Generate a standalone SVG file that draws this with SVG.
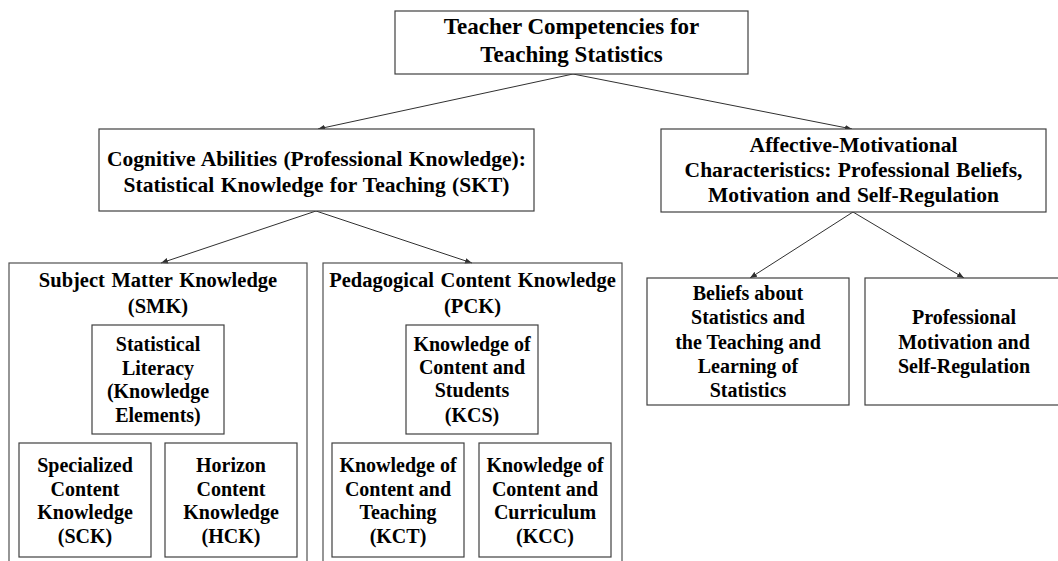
<svg xmlns="http://www.w3.org/2000/svg" width="1058" height="561" viewBox="0 0 1058 561">
  <style>
    .box { fill: #ffffff; stroke: #404040; stroke-width: 1.2; }
    .frame { fill: none; stroke: #505050; stroke-width: 1.2; }
    text { font-family: "Liberation Serif", "Times New Roman", serif; font-weight: bold; fill: #000000; text-anchor: middle; }
    .t23 { font-size: 23px; }
    .t21 { font-size: 21.5px; word-spacing: 1px; }
    .t20h { font-size: 20.5px; word-spacing: 1.5px; }
    .t20 { font-size: 20px; }
    .link { fill: none; stroke: #303030; stroke-width: 1; marker-end: url(#arrow); }
  </style>
  <defs>
    <marker id="arrow" viewBox="0 0 10 10" refX="10" refY="5" markerWidth="7" markerHeight="7" markerUnits="userSpaceOnUse" orient="auto">
      <path d="M0,1 L10,5 L0,9 Z" fill="#303030"/>
    </marker>
  </defs>
  <rect width="1058" height="561" fill="#ffffff"/>

  <!-- connectors -->
  <g id="connectors">
    <line class="link" x1="573" y1="74" x2="318" y2="129"/>
    <line class="link" x1="573" y1="74" x2="852" y2="129"/>
    <line class="link" x1="316" y1="211" x2="161" y2="263"/>
    <line class="link" x1="316" y1="211" x2="472" y2="263"/>
    <line class="link" x1="853" y1="212" x2="750" y2="278"/>
    <line class="link" x1="853" y1="212" x2="964" y2="278"/>
  </g>

  <!-- root -->
  <g id="teacher-competencies">
    <rect class="box" x="395" y="11" width="353" height="63"/>
    <text class="t23" x="571.5" y="34">Teacher Competencies for</text>
    <text class="t23" x="571.5" y="62">Teaching Statistics</text>
  </g>

  <!-- cognitive branch -->
  <g id="cognitive-abilities">
    <rect class="box" x="99" y="129" width="435" height="82"/>
    <text class="t21" x="316.5" y="166">Cognitive Abilities (Professional Knowledge):</text>
    <text class="t21" x="316.5" y="192">Statistical Knowledge for Teaching (SKT)</text>
  </g>

  <g id="smk">
    <rect class="frame" x="9" y="263" width="298" height="310"/>
    <text class="t20h" x="158" y="287">Subject Matter Knowledge</text>
    <text class="t20h" x="158" y="313">(SMK)</text>
  </g>

  <g id="statistical-literacy">
    <rect class="box" x="92" y="325" width="132" height="109"/>
    <text class="t20" x="158" y="351">Statistical</text>
    <text class="t20" x="158" y="375">Literacy</text>
    <text class="t20" x="158" y="398">(Knowledge</text>
    <text class="t20" x="158" y="422">Elements)</text>
  </g>

  <g id="sck">
    <rect class="box" x="19" y="443" width="132" height="114"/>
    <text class="t20" x="85" y="472">Specialized</text>
    <text class="t20" x="85" y="496">Content</text>
    <text class="t20" x="85" y="519">Knowledge</text>
    <text class="t20" x="85" y="543">(SCK)</text>
  </g>

  <g id="hck">
    <rect class="box" x="165" y="443" width="132" height="114"/>
    <text class="t20" x="231" y="472">Horizon</text>
    <text class="t20" x="231" y="496">Content</text>
    <text class="t20" x="231" y="519">Knowledge</text>
    <text class="t20" x="231" y="543">(HCK)</text>
  </g>

  <g id="pck">
    <rect class="frame" x="323" y="263" width="299" height="310"/>
    <text class="t20h" x="472.5" y="287">Pedagogical Content Knowledge</text>
    <text class="t20h" x="472.5" y="313">(PCK)</text>
  </g>

  <g id="kcs">
    <rect class="box" x="406" y="325" width="132" height="109"/>
    <text class="t20" x="472" y="351">Knowledge of</text>
    <text class="t20" x="472" y="374">Content and</text>
    <text class="t20" x="472" y="397">Students</text>
    <text class="t20" x="472" y="422">(KCS)</text>
  </g>

  <g id="kct">
    <rect class="box" x="332" y="443" width="132" height="114"/>
    <text class="t20" x="398" y="472">Knowledge of</text>
    <text class="t20" x="398" y="496">Content and</text>
    <text class="t20" x="398" y="519">Teaching</text>
    <text class="t20" x="398" y="543">(KCT)</text>
  </g>

  <g id="kcc">
    <rect class="box" x="479" y="443" width="132" height="114"/>
    <text class="t20" x="545" y="472">Knowledge of</text>
    <text class="t20" x="545" y="496">Content and</text>
    <text class="t20" x="545" y="519">Curriculum</text>
    <text class="t20" x="545" y="543">(KCC)</text>
  </g>

  <!-- affective branch -->
  <g id="affective-motivational">
    <rect class="box" x="661" y="129" width="385" height="83"/>
    <text class="t21" x="853.5" y="152">Affective-Motivational</text>
    <text class="t21" x="853.5" y="177">Characteristics: Professional Beliefs,</text>
    <text class="t21" x="853.5" y="202">Motivation and Self-Regulation</text>
  </g>

  <g id="beliefs">
    <rect class="box" x="647" y="278" width="202" height="127"/>
    <text class="t20" x="748" y="300">Beliefs about</text>
    <text class="t20" x="748" y="324">Statistics and</text>
    <text class="t20" x="748" y="349">the Teaching and</text>
    <text class="t20" x="748" y="373">Learning of</text>
    <text class="t20" x="748" y="397">Statistics</text>
  </g>

  <g id="motivation-self-regulation">
    <rect class="box" x="865" y="278" width="200" height="127"/>
    <text class="t20" x="964" y="324">Professional</text>
    <text class="t20" x="964" y="349">Motivation and</text>
    <text class="t20" x="964" y="373">Self-Regulation</text>
  </g>
</svg>
